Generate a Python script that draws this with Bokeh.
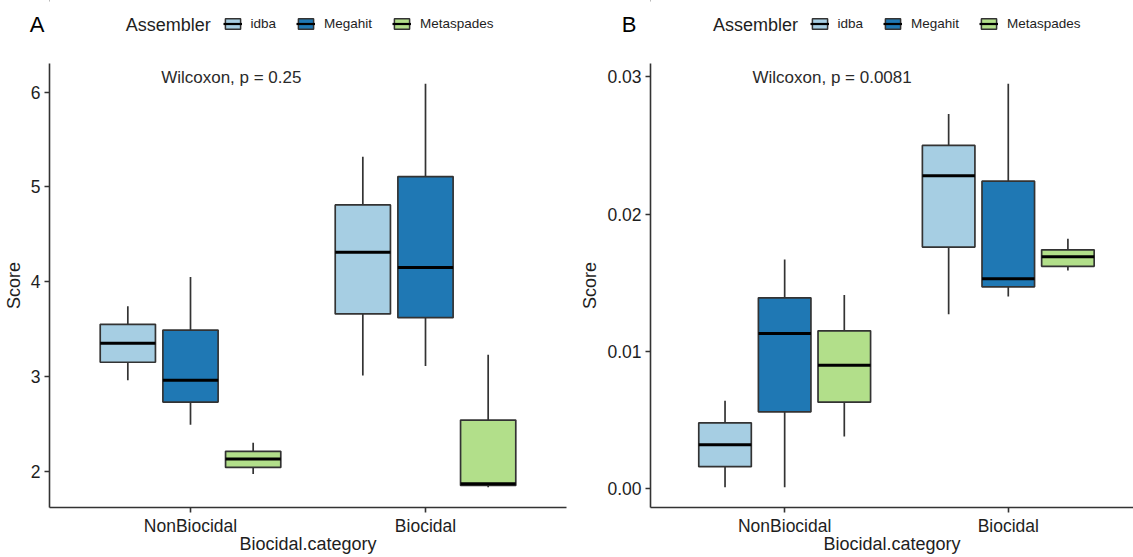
from bokeh.plotting import figure
from bokeh.layouts import row, column
from bokeh.models import (Range1d, FixedTicker, Label, Legend, LegendItem,
                          ColumnDataSource, PrintfTickFormatter)
from bokeh.embed import file_html
from bokeh.resources import INLINE

categories = ["NonBiocidal", "Biocidal"]
assemblers = ["idba", "Megahit", "Metaspades"]
colors = ["#a6cee3", "#1f78b4", "#b2df8a"]

# Panel A box statistics, one list per assembler: [NonBiocidal, Biocidal]
a_lower = {"idba": [2.96, 3.01], "Megahit": [2.49, 3.11], "Metaspades": [1.97, 1.83]}
a_q1 = {"idba": [3.15, 3.66], "Megahit": [2.73, 3.62], "Metaspades": [2.04, 1.85]}
a_median = {"idba": [3.35, 4.31], "Megahit": [2.96, 4.15], "Metaspades": [2.13, 1.867]}
a_q3 = {"idba": [3.55, 4.81], "Megahit": [3.49, 5.11], "Metaspades": [2.21, 2.54]}
a_upper = {"idba": [3.74, 5.32], "Megahit": [4.05, 6.09], "Metaspades": [2.30, 3.23]}
a_ticks = [2, 3, 4, 5, 6]
a_pvalue = "Wilcoxon, p = 0.25"

# Panel B box statistics
b_lower = {"idba": [0.0001, 0.0127], "Megahit": [0.0001, 0.0140], "Metaspades": [0.0038, 0.0159]}
b_q1 = {"idba": [0.0016, 0.0176], "Megahit": [0.0056, 0.0147], "Metaspades": [0.0063, 0.0162]}
b_median = {"idba": [0.0032, 0.0228], "Megahit": [0.0113, 0.0153], "Metaspades": [0.0090, 0.0169]}
b_q3 = {"idba": [0.0048, 0.0250], "Megahit": [0.0139, 0.0224], "Metaspades": [0.0115, 0.0174]}
b_upper = {"idba": [0.0064, 0.0273], "Megahit": [0.0167, 0.0295], "Metaspades": [0.0141, 0.0182]}
b_ticks = [0.0, 0.01, 0.02, 0.03]
b_pvalue = "Wilcoxon, p = 0.0081"

FONT = "Liberation Sans"
EDGE = "#333333"
TEXT = "#1e1e1e"
DODGE = 0.8 / 3
BOX_W = 0.235
HEADER_H = 47               # strip holding panel letter and legend
PLOT_H = 557 - HEADER_H
TOP_GAP = 16                # white space between strip and plotting area
BOTTOM = 50


def make_header(letter, width, frame_left, frame_right, letter_gap, title_x, legend_x):
    """Strip above each panel: panel letter, legend title and the legend keys.
    Its plotting area lines up with the panel below, so x is in page pixels."""
    h = figure(width=width, height=HEADER_H, output_backend="svg", toolbar_location=None,
               x_range=Range1d(frame_left, frame_right), y_range=Range1d(HEADER_H, 0),
               x_axis_type=None, y_axis_location="left",
               min_border_left=0, min_border_right=0, min_border_top=0, min_border_bottom=0)
    h.outline_line_color = None
    h.xgrid.visible = False
    h.ygrid.visible = False
    ax = h.yaxis[0]
    ax.ticker = FixedTicker(ticks=[])
    ax.axis_line_color = None
    ax.major_tick_line_color = None
    ax.minor_tick_line_color = None
    ax.axis_label = letter
    ax.axis_label_orientation = "horizontal"
    ax.axis_label_standoff = letter_gap
    ax.axis_label_text_font = FONT
    ax.axis_label_text_font_size = "22px"
    ax.axis_label_text_font_style = "normal"
    ax.axis_label_text_color = "black"

    h.add_layout(Label(x=title_x, y=24, text="Assembler", text_font=FONT,
                       text_font_size="18px", text_color=TEXT, text_baseline="middle"))
    items = []
    for i, name in enumerate(assemblers):
        # legend proxies, parked outside the visible strip
        src = ColumnDataSource(dict(x=[frame_left - 500], lo=[0], hi=[0]))
        box = h.vbar(x="x", width=1, top="hi", bottom="lo", source=src,
                     fill_color=colors[i], line_color=EDGE, line_width=1.5)
        med = h.segment(x0="x", y0="lo", x1="x", y1="hi", source=src,
                        line_color="black", line_width=2.2)
        items.append(LegendItem(label=name, renderers=[box, med]))
    legend = Legend(items=items, orientation="horizontal",
                    location=(legend_x - frame_left, HEADER_H - 31.5),
                    glyph_width=19, glyph_height=13, label_standoff=9, spacing=20,
                    padding=0, margin=0, label_height=16,
                    label_text_font=FONT, label_text_font_size="13.5px",
                    label_text_color=TEXT, border_line_color=None,
                    background_fill_alpha=0)
    h.add_layout(legend)
    return h


def make_panel(lower, q1, median, q3, upper, ticks, fmt, pvalue,
               width, border_left, border_right, x_end, text_x):
    lo = min(min(v) for v in lower.values())
    hi = max(max(v) for v in upper.values())
    pad = 0.05 * (hi - lo)
    p = figure(width=width, height=PLOT_H, output_backend="svg", toolbar_location=None,
               x_range=Range1d(0.4, x_end), y_range=Range1d(lo - pad, hi + pad),
               min_border_left=border_left, min_border_right=border_right,
               min_border_top=TOP_GAP, min_border_bottom=BOTTOM)
    p.outline_line_color = None
    p.xgrid.visible = False
    p.ygrid.visible = False
    p.background_fill_color = "white"

    for i, name in enumerate(assemblers):
        xs = [k + 1 + (i - 1) * DODGE for k in range(len(categories))]
        src = ColumnDataSource(dict(
            x=xs, lower=lower[name], q1=q1[name], med=median[name],
            q3=q3[name], upper=upper[name],
            left=[x - BOX_W / 2 for x in xs], right=[x + BOX_W / 2 for x in xs]))
        p.segment("x", "q3", "x", "upper", source=src, line_color=EDGE, line_width=1.7)
        p.segment("x", "lower", "x", "q1", source=src, line_color=EDGE, line_width=1.7)
        p.vbar(x="x", width=BOX_W, bottom="q1", top="q3", source=src,
               fill_color=colors[i], line_color=EDGE, line_width=1.7)
        p.segment("left", "med", "right", "med", source=src,
                  line_color="black", line_width=3)

    for ax in (p.xaxis[0], p.yaxis[0]):
        ax.axis_line_color = EDGE
        ax.axis_line_width = 1.6
        ax.major_tick_line_color = EDGE
        ax.major_tick_line_width = 1.6
        ax.major_tick_out = 5
        ax.major_tick_in = 0
        ax.minor_tick_line_color = None
        ax.major_label_text_font = FONT
        ax.major_label_text_font_size = "17.5px"
        ax.major_label_text_color = TEXT
        ax.axis_label_text_font = FONT
        ax.axis_label_text_font_size = "18px"
        ax.axis_label_text_font_style = "normal"
        ax.axis_label_text_color = TEXT

    p.xaxis.ticker = FixedTicker(ticks=[1, 2])
    p.xaxis.major_label_overrides = {1: categories[0], 2: categories[1]}
    p.xaxis.axis_label = "Biocidal.category"
    p.xaxis.major_label_standoff = 3
    p.xaxis.axis_label_standoff = -5
    p.yaxis.ticker = FixedTicker(ticks=ticks)
    p.yaxis.formatter = PrintfTickFormatter(format=fmt)
    p.yaxis.axis_label = "Score"
    p.yaxis.major_label_standoff = 4
    p.yaxis.axis_label_standoff = 4

    frame_h = PLOT_H - TOP_GAP - BOTTOM
    p.add_layout(Label(x=text_x, y=frame_h - 14, x_units="data", y_units="screen",
                       text=pvalue, text_font=FONT, text_font_size="17px",
                       text_color="#2a2a2a", text_baseline="middle"))
    return p


pa = make_panel(a_lower, a_q1, a_median, a_q3, a_upper, a_ticks, "%.0f", a_pvalue,
                width=570, border_left=47, border_right=4, x_end=2.6, text_x=0.875)
pb = make_panel(b_lower, b_q1, b_median, b_q3, b_upper, b_ticks, "%.2f", b_pvalue,
                width=563, border_left=80, border_right=0, x_end=2.56, text_x=0.856)
ha = make_header("A", 570, 47, 566, 5, 123.5, 220.5)
hb = make_header("B", 563, 650, 1133, 14, 712.5, 809.5)

layout = row(column(ha, pa), column(hb, pb))
open("out.html", "w").write(file_html(layout, INLINE))
